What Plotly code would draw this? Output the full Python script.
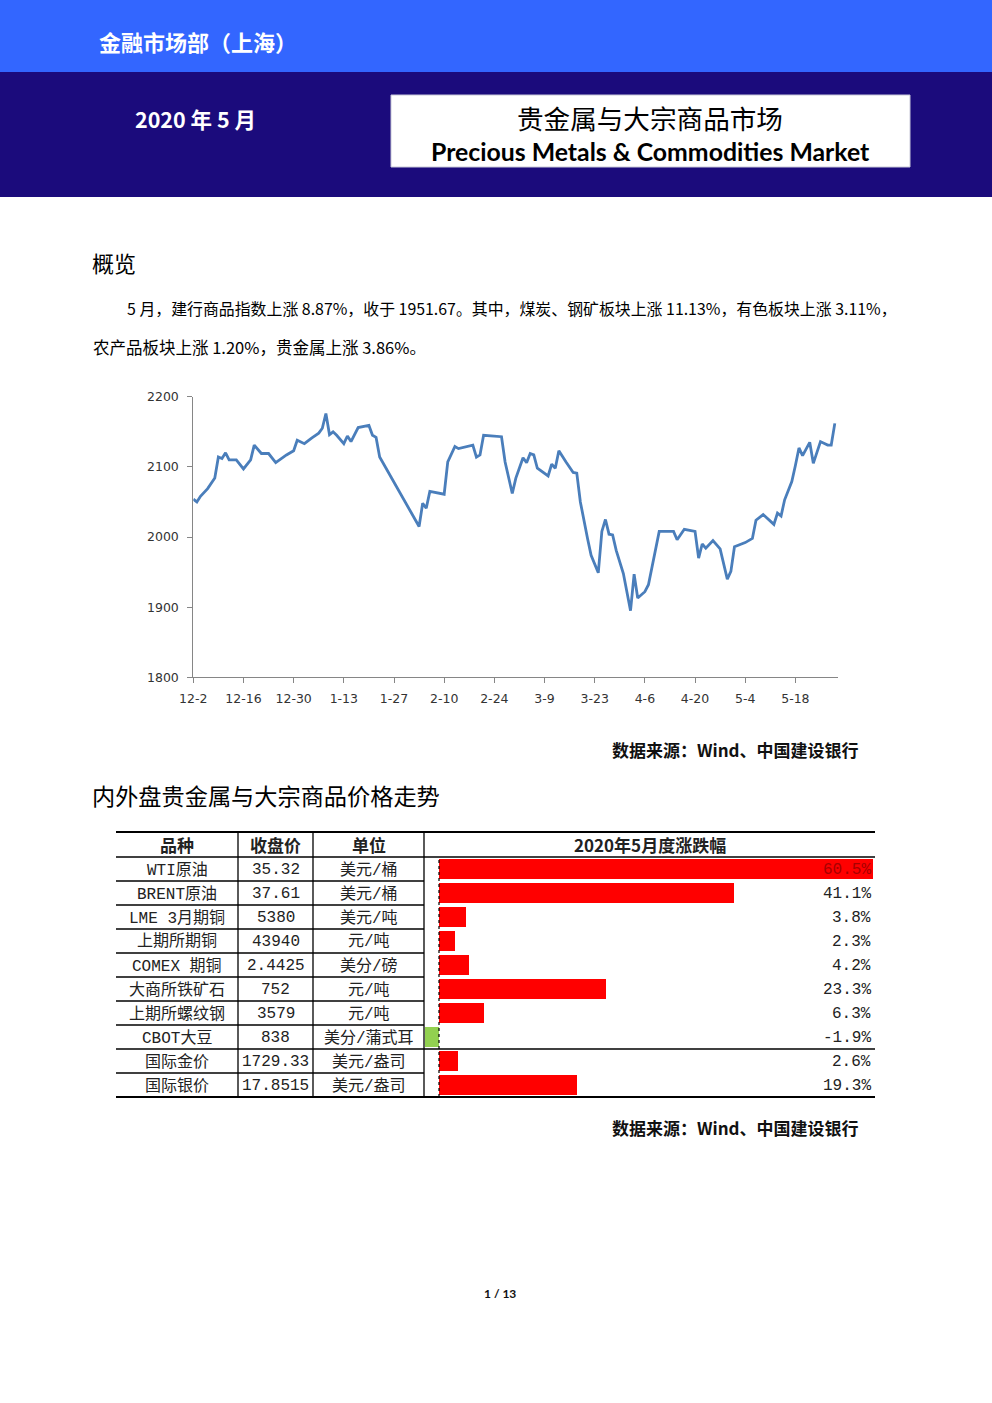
import plotly.graph_objects as go

W, H = 992, 1403

# ---------------- data ----------------
# CCB commodity index
dates = ["2019-12-02", "2019-12-03", "2019-12-04", "2019-12-06", "2019-12-08", "2019-12-09",
         "2019-12-10", "2019-12-11", "2019-12-12", "2019-12-14", "2019-12-16", "2019-12-18",
         "2019-12-19", "2019-12-21", "2019-12-23", "2019-12-25", "2019-12-28", "2019-12-30",
         "2019-12-31", "2020-01-02", "2020-01-04", "2020-01-06", "2020-01-07", "2020-01-08",
         "2020-01-09", "2020-01-10", "2020-01-11", "2020-01-13", "2020-01-14", "2020-01-15",
         "2020-01-17", "2020-01-20", "2020-01-21", "2020-01-22", "2020-01-23", "2020-02-03",
         "2020-02-04", "2020-02-05", "2020-02-06", "2020-02-10", "2020-02-11", "2020-02-13",
         "2020-02-14", "2020-02-18", "2020-02-19", "2020-02-20", "2020-02-21", "2020-02-26",
         "2020-02-27", "2020-02-29", "2020-03-01", "2020-03-03", "2020-03-04", "2020-03-05",
         "2020-03-06", "2020-03-07", "2020-03-10", "2020-03-11", "2020-03-12", "2020-03-13",
         "2020-03-15", "2020-03-17", "2020-03-18", "2020-03-19", "2020-03-21", "2020-03-22",
         "2020-03-24", "2020-03-25", "2020-03-26", "2020-03-27", "2020-03-28", "2020-03-29",
         "2020-03-31", "2020-04-02", "2020-04-03", "2020-04-04", "2020-04-06", "2020-04-07",
         "2020-04-10", "2020-04-14", "2020-04-15", "2020-04-17", "2020-04-20", "2020-04-21",
         "2020-04-22", "2020-04-23", "2020-04-25", "2020-04-27", "2020-04-29", "2020-04-30",
         "2020-05-01", "2020-05-04", "2020-05-06", "2020-05-07", "2020-05-09", "2020-05-12",
         "2020-05-13", "2020-05-14", "2020-05-15", "2020-05-17", "2020-05-18", "2020-05-19",
         "2020-05-20", "2020-05-22", "2020-05-23", "2020-05-25", "2020-05-27", "2020-05-28",
         "2020-05-29"]
index_values = [2054, 2050, 2058, 2069, 2084, 2114,
                2112, 2120, 2110, 2110, 2097, 2110,
                2131, 2119, 2119, 2106, 2117, 2123,
                2138, 2133, 2141, 2148, 2155, 2176,
                2146, 2150, 2145, 2133, 2144, 2136,
                2156, 2159, 2145, 2142, 2114, 2015,
                2048, 2041, 2065, 2061, 2107, 2129,
                2126, 2131, 2114, 2117, 2145, 2143,
                2107, 2062, 2084, 2113, 2106, 2119,
                2117, 2098, 2087, 2104, 2098, 2123,
                2107, 2092, 2091, 2050, 1998, 1974,
                1949, 2008, 2025, 2004, 2003, 1981,
                1948, 1895, 1947, 1913, 1922, 1932,
                2008, 2008, 1996, 2011, 2008, 1970,
                1990, 1984, 1995, 1983, 1940, 1951,
                1986, 1992, 1998, 2024, 2032, 2018,
                2034, 2030, 2053, 2079, 2102, 2127,
                2116, 2135, 2105, 2136, 2131, 2131,
                2162]

x_tick_dates = ["2019-12-02", "2019-12-16", "2019-12-30", "2020-01-13", "2020-01-27",
                "2020-02-10", "2020-02-24", "2020-03-09", "2020-03-23", "2020-04-06",
                "2020-04-20", "2020-05-04", "2020-05-18"]
x_tick_labels = ["12-2", "12-16", "12-30", "1-13", "1-27", "2-10", "2-24", "3-9",
                 "3-23", "4-6", "4-20", "5-4", "5-18"]
y_ticks = [1800, 1900, 2000, 2100, 2200]

# Table
table_headers = ["品种", "收盘价", "单位", "2020年5月度涨跌幅"]
products = ["WTI原油", "BRENT原油", "LME 3月期铜", "上期所期铜", "COMEX 期铜",
            "大商所铁矿石", "上期所螺纹钢", "CBOT大豆", "国际金价", "国际银价"]
close_prices = ["35.32", "37.61", "5380", "43940", "2.4425", "752", "3579", "838",
                "1729.33", "17.8515"]
units = ["美元/桶", "美元/桶", "美元/吨", "元/吨", "美分/磅", "元/吨", "元/吨",
         "美分/蒲式耳", "美元/盎司", "美元/盎司"]
monthly_change = [60.5, 41.1, 3.8, 2.3, 4.2, 23.3, 6.3, -1.9, 2.6, 19.3]

# ---------------- helpers ----------------
CJK = "Noto Sans CJK SC"
TBL = "Liberation Mono, Noto Sans CJK SC"


def px(x):
    return x / W


def py(y):
    return 1 - y / H


annotations = []
shapes = []


def text(x, y, s, size, color="black", family=CJK, anchor="left"):
    annotations.append(dict(x=px(x), y=py(y), xref="paper", yref="paper", text=s,
                            showarrow=False, xanchor=anchor, yanchor="middle",
                            font=dict(size=size, color=color, family=family)))


def rect(x0, y0, x1, y1, fill, line_color=None, lw=0):
    shapes.append(dict(type="rect", xref="paper", yref="paper", x0=px(x0), x1=px(x1),
                       y0=py(y1), y1=py(y0), fillcolor=fill, layer="below",
                       line=dict(color=line_color or fill, width=lw)))


def hline(x0, x1, y, lw=1.3, color="black"):
    shapes.append(dict(type="line", xref="paper", yref="paper", x0=px(x0), x1=px(x1),
                       y0=py(y), y1=py(y), line=dict(color=color, width=lw)))


def vline(x, y0, y1, lw=1.3, color="black"):
    shapes.append(dict(type="line", xref="paper", yref="paper", x0=px(x), x1=px(x),
                       y0=py(y0), y1=py(y1), line=dict(color=color, width=lw)))


# ---------------- header ----------------
rect(0, 0, W, 72, "#3366ff")
rect(0, 72, W, 197, "#1b0b7c")
rect(391, 95, 910, 167, "white", "#c8c8d8", 1)
text(97, 41, "<b>金融市场部（上海）</b>", 22, "white")
text(133, 118.5, "<b>2020 年 5 月</b>", 21.5, "white")
text(650, 117, "贵金属与大宗商品市场", 26.6, "black", anchor="center")
text(650, 151, "<b>Precious Metals &amp; Commodities Market</b>", 24.8, "black",
     family="Lato", anchor="center")

# ---------------- body text ----------------
text(90, 262, "概览", 22)
text(125, 308.5, "5 月，建行商品指数上涨 8.87%，收于 1951.67。其中，煤炭、钢矿板块上涨 11.13%，有色板块上涨 3.11%，", 15.9)
text(91, 347.5, "农产品板块上涨 1.20%，贵金属上涨 3.86%。", 16.5)
text(861, 750, "<b>数据来源：Wind、中国建设银行</b>", 17, "#111", anchor="right")
text(90, 795, "内外盘贵金属与大宗商品价格走势", 23.2)
text(861, 1127, "<b>数据来源：Wind、中国建设银行</b>", 17, "#111", anchor="right")
text(500, 1293, "<b>1 / 13</b>", 12, "#111", family="Lato", anchor="center")

# ---------------- table ----------------
top, head_bot, row_h = 832, 857, 24
n = len(products)
bottom = head_bot + row_h * n
col_x = [116, 238, 313, 424, 875]
col_c = [(col_x[i] + col_x[i + 1]) / 2 for i in range(3)]

hline(col_x[0], col_x[4], top, lw=2)
hline(col_x[0], col_x[4], head_bot)
for i in range(1, n + 1):
    yb = head_bot + row_h * i
    full = (i == n) or (i == 8)
    hline(col_x[0], col_x[4] if full else col_x[3], yb, lw=1.8 if i == n else 1.3)
for cx in col_x[1:4]:
    vline(cx, top, bottom)

for j in range(3):
    text(col_c[j], 845, "<b>" + table_headers[j] + "</b>", 17, "#222", anchor="center")
text(650, 845, "<b>" + table_headers[3] + "</b>", 17, "#222", anchor="center")

for i in range(n):
    yc = head_bot + row_h * i + 13
    text(col_c[0], yc, products[i], 16, "#222", family=TBL, anchor="center")
    text(col_c[1], yc, close_prices[i], 16, "#222", family=TBL, anchor="center")
    text(col_c[2], yc, units[i], 16, "#222", family=TBL, anchor="center")
    v = monthly_change[i]
    text(873, yc, f"{v:.1f}%", 16, "#a80000" if i == 0 else "#222", family=TBL, anchor="right")

# dotted zero axis of the bar panel
shapes.append(dict(type="line", xref="x2", yref="paper", x0=0, x1=0,
                   y0=py(bottom), y1=py(head_bot),
                   line=dict(color="black", width=1.2, dash="dot")))

# ---------------- traces ----------------
fig = go.Figure()
fig.add_trace(go.Scatter(x=dates, y=index_values, mode="lines",
                         line=dict(color="#4a7ebb", width=2.8), xaxis="x", yaxis="y",
                         hoverinfo="skip"))
bar_colors = ["#ff0000" if v >= 0 else "#92d050" for v in monthly_change]
fig.add_trace(go.Bar(x=monthly_change, y=list(range(n)), orientation="h",
                     marker=dict(color=bar_colors, line=dict(width=0)), width=0.82,
                     xaxis="x2", yaxis="y2", hoverinfo="skip"))

scale = 7.17  # px per percent
x0_px = 439
fig.update_layout(
    width=W, height=H, margin=dict(l=0, r=0, t=0, b=0, autoexpand=False),
    paper_bgcolor="white", plot_bgcolor="rgba(0,0,0,0)", showlegend=False,
    xaxis=dict(type="date", domain=[px(193.3), px(838.4)],
               range=["2019-12-02", "2020-05-30"],
               tickmode="array", tickvals=x_tick_dates, ticktext=x_tick_labels,
               ticks="outside", ticklen=5, tickcolor="#868686",
               showline=True, linecolor="#868686", linewidth=1,
               showgrid=False, zeroline=False, anchor="y", automargin=False,
               ticklabelstandoff=5,
               tickfont=dict(size=12.5, family="DejaVu Sans", color="#333")),
    yaxis=dict(domain=[py(677.3), py(396.7)], range=[1800, 2200],
               tickmode="array", tickvals=y_ticks,
               ticks="outside", ticklen=5, tickcolor="#868686",
               showline=True, linecolor="#868686", linewidth=1,
               showgrid=False, zeroline=False, anchor="x", automargin=False,
               ticklabelstandoff=6,
               tickfont=dict(size=12.5, family="DejaVu Sans", color="#333")),
    xaxis2=dict(domain=[px(425), px(875)],
                range=[(425 - x0_px) / scale, (875 - x0_px) / scale],
                visible=False, anchor="y2", automargin=False),
    yaxis2=dict(domain=[py(bottom), py(head_bot)], range=[n - 0.5, -0.5],
                visible=False, anchor="x2", automargin=False),
    annotations=annotations, shapes=shapes, bargap=0,
)

fig.write_html("out.html", config={"displayModeBar": False})
